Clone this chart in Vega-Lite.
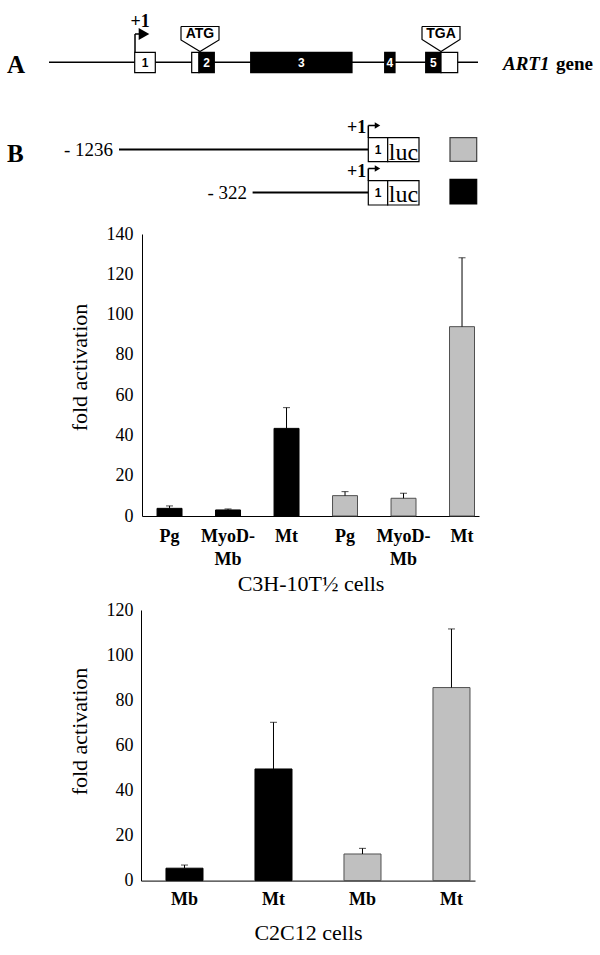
{
  "$schema": "https://vega.github.io/schema/vega-lite/v6.json",
  "background": "white",
  "padding": 0,
  "spacing": 7,
  "config": {"view": {"stroke": null}, "concat": {"spacing": 0}},
  "datasets": {
    "rules": [
      {"part": "gene", "x": 49, "x2": 478, "y": 62.3, "y2": 62.3},
      {"part": "flag", "x": 135, "x2": 135, "y": 52.3, "y2": 34},
      {"part": "flag", "x": 135, "x2": 139, "y": 34, "y2": 34},
      {"part": "construct", "x": 119, "x2": 368, "y": 149.5, "y2": 149.5},
      {"part": "construct", "x": 252.6, "x2": 368, "y": 192.5, "y2": 192.5},
      {"part": "flag", "x": 368.3, "x2": 368.3, "y": 137.7, "y2": 125.5},
      {"part": "flag", "x": 368.3, "x2": 375, "y": 125.5, "y2": 125.5},
      {"part": "flag", "x": 368.3, "x2": 368.3, "y": 180.7, "y2": 168.5},
      {"part": "flag", "x": 368.3, "x2": 375, "y": 168.5, "y2": 168.5}
    ],
    "boxes": [
      {"name": "exon 1", "type": "noncoding", "x": 134.7, "x2": 155.3, "y": 52.3, "y2": 72.7},
      {"name": "exon 2 UTR", "type": "noncoding", "x": 191.7, "x2": 199, "y": 52.3, "y2": 72.7},
      {"name": "exon 2 CDS", "type": "coding", "x": 199, "x2": 214.3, "y": 52.3, "y2": 72.7},
      {"name": "exon 3", "type": "coding", "x": 250.7, "x2": 352, "y": 52.3, "y2": 72.7},
      {"name": "exon 4", "type": "coding", "x": 384.7, "x2": 395, "y": 52.3, "y2": 72.7},
      {"name": "exon 5 CDS", "type": "coding", "x": 425.7, "x2": 441, "y": 52.3, "y2": 72.7},
      {"name": "exon 5 UTR", "type": "noncoding", "x": 441, "x2": 457.7, "y": 52.3, "y2": 72.7},
      {"name": "-1236 exon 1", "type": "noncoding", "x": 368.3, "x2": 387.7, "y": 137.7, "y2": 161.7},
      {"name": "-1236 luc", "type": "noncoding", "x": 387.7, "x2": 419, "y": 137.7, "y2": 161.7},
      {"name": "-322 exon 1", "type": "noncoding", "x": 368.3, "x2": 387.7, "y": 180.7, "y2": 205},
      {"name": "-322 luc", "type": "noncoding", "x": 387.7, "x2": 419, "y": 180.7, "y2": 205},
      {"name": "key -1236", "type": "-1236", "x": 450, "x2": 476.7, "y": 137.7, "y2": 161.3},
      {"name": "key -322", "type": "-322", "x": 450, "x2": 476.7, "y": 179.3, "y2": 204}
    ],
    "arrows": [
      {"part": "gene", "x": 144, "y": 34},
      {"part": "construct", "x": 377.5, "y": 125.5},
      {"part": "construct", "x": 377.5, "y": 168.5}
    ],
    "callouts": [
      {"codon": "ATG", "order": 1, "x": 181, "y": 26.5},
      {"codon": "ATG", "order": 2, "x": 219, "y": 26.5},
      {"codon": "ATG", "order": 3, "x": 219, "y": 40},
      {"codon": "ATG", "order": 4, "x": 200, "y": 51.5},
      {"codon": "ATG", "order": 5, "x": 181, "y": 40},
      {"codon": "ATG", "order": 6, "x": 181, "y": 26.5},
      {"codon": "TGA", "order": 1, "x": 422, "y": 26.5},
      {"codon": "TGA", "order": 2, "x": 460, "y": 26.5},
      {"codon": "TGA", "order": 3, "x": 460, "y": 39.5},
      {"codon": "TGA", "order": 4, "x": 441, "y": 51.5},
      {"codon": "TGA", "order": 5, "x": 422, "y": 39.5},
      {"codon": "TGA", "order": 6, "x": 422, "y": 26.5}
    ],
    "labels": [
      {"role": "letter", "text": "A", "x": 7, "y": 73},
      {"role": "letter", "text": "B", "x": 7, "y": 162},
      {"role": "plus", "text": "+1", "x": 140, "y": 26.5},
      {"role": "plus", "text": "+1", "x": 356.5, "y": 133.3},
      {"role": "plus", "text": "+1", "x": 356.5, "y": 176.7},
      {"role": "exon", "type": "noncoding", "text": "1", "x": 145, "y": 62.5},
      {"role": "exon", "type": "coding", "text": "2", "x": 206.6, "y": 62.5},
      {"role": "exon", "type": "coding", "text": "3", "x": 301.3, "y": 62.5},
      {"role": "exon", "type": "coding", "text": "4", "x": 389.9, "y": 62.5},
      {"role": "exon", "type": "coding", "text": "5", "x": 433.3, "y": 62.5},
      {"role": "exon", "type": "noncoding", "text": "1", "x": 378, "y": 149.7},
      {"role": "exon", "type": "noncoding", "text": "1", "x": 378, "y": 192.8},
      {"role": "codon", "text": "ATG", "x": 200, "y": 34},
      {"role": "codon", "text": "TGA", "x": 441, "y": 34},
      {"role": "genename", "text": "ART1", "x": 503, "y": 70},
      {"role": "geneword", "text": "gene", "x": 593, "y": 70},
      {"role": "coord", "text": "- 1236", "x": 113, "y": 156},
      {"role": "coord", "text": "- 322", "x": 247, "y": 199},
      {"role": "luc", "text": "luc", "x": 403.4, "y": 160},
      {"role": "luc", "text": "luc", "x": 403.4, "y": 202}
    ],
    "c3h": [
      {"key": "Pg_-322", "construct": "-322", "condition": "Pg", "value": 3.8, "err": 5.0},
      {"key": "MyoD-Mb_-322", "construct": "-322", "condition": "MyoD-Mb", "value": 3.0, "err": 3.5},
      {"key": "Mt_-322", "construct": "-322", "condition": "Mt", "value": 43.5, "err": 53.8},
      {"key": "Pg_-1236", "construct": "-1236", "condition": "Pg", "value": 10.1, "err": 12.1},
      {"key": "MyoD-Mb_-1236", "construct": "-1236", "condition": "MyoD-Mb", "value": 8.8, "err": 11.3},
      {"key": "Mt_-1236", "construct": "-1236", "condition": "Mt", "value": 94.0, "err": 128.2}
    ],
    "c2c12": [
      {"key": "Mb_-322", "construct": "-322", "condition": "Mb", "value": 5.5, "err": 6.9},
      {"key": "Mt_-322", "construct": "-322", "condition": "Mt", "value": 49.5, "err": 70.2},
      {"key": "Mb_-1236", "construct": "-1236", "condition": "Mb", "value": 11.8, "err": 14.3},
      {"key": "Mt_-1236", "construct": "-1236", "condition": "Mt", "value": 85.6, "err": 111.6}
    ]
  },
  "vconcat": [
    {
      "width": 600,
      "height": 218,
      "layer": [
        {
          "data": {"name": "rules"},
          "mark": {"type": "rule", "color": "black"},
          "encoding": {
            "x": {"field": "x", "type": "quantitative", "scale": {"domain": [0, 600], "nice": false, "zero": false}, "axis": null},
            "x2": {"field": "x2"},
            "y": {"field": "y", "type": "quantitative", "scale": {"domain": [0, 218], "nice": false, "zero": false, "reverse": true}, "axis": null},
            "y2": {"field": "y2"},
            "strokeWidth": {"condition": {"test": "datum.part === 'construct'", "value": 2}, "value": 1.5}
          }
        },
        {
          "data": {"name": "boxes"},
          "mark": {"type": "rect", "stroke": "black", "strokeWidth": 1.2},
          "encoding": {
            "x": {"field": "x", "type": "quantitative", "scale": {"domain": [0, 600], "nice": false, "zero": false}, "axis": null},
            "x2": {"field": "x2"},
            "y": {"field": "y", "type": "quantitative", "scale": {"domain": [0, 218], "nice": false, "zero": false, "reverse": true}, "axis": null},
            "y2": {"field": "y2"},
            "fill": {"condition": [
              {"test": "datum.type === 'coding'", "value": "black"},
              {"test": "datum.type === '-322'", "value": "black"},
              {"test": "datum.type === '-1236'", "value": "#c0c0c0"}
            ], "value": "white"},
            "stroke": {"condition": {"test": "datum.type === '-1236'", "value": "#404040"}, "value": "black"}
          }
        },
        {
          "data": {"name": "arrows"},
          "mark": {"type": "point", "shape": "triangle-right", "filled": true, "color": "black", "opacity": 1},
          "encoding": {
            "x": {"field": "x", "type": "quantitative", "scale": {"domain": [0, 600], "nice": false, "zero": false}, "axis": null},
            "y": {"field": "y", "type": "quantitative", "scale": {"domain": [0, 218], "nice": false, "zero": false, "reverse": true}, "axis": null},
            "size": {"condition": {"test": "datum.part === 'gene'", "value": 150}, "value": 40}
          }
        },
        {
          "data": {"name": "callouts"},
          "mark": {"type": "line", "color": "black", "strokeWidth": 1.2},
          "encoding": {
            "x": {"field": "x", "type": "quantitative", "scale": {"domain": [0, 600], "nice": false, "zero": false}, "axis": null},
            "y": {"field": "y", "type": "quantitative", "scale": {"domain": [0, 218], "nice": false, "zero": false, "reverse": true}, "axis": null},
            "order": {"field": "order", "type": "quantitative"},
            "detail": {"field": "codon", "type": "nominal"}
          }
        },
        {
          "data": {"name": "labels"},
          "transform": [{"filter": "datum.role === 'letter'"}],
          "mark": {"type": "text", "font": "Liberation Serif", "fontWeight": "bold", "fontSize": 25, "align": "left", "baseline": "alphabetic", "color": "black"},
          "encoding": {
            "x": {"field": "x", "type": "quantitative", "scale": {"domain": [0, 600], "nice": false, "zero": false}, "axis": null},
            "y": {"field": "y", "type": "quantitative", "scale": {"domain": [0, 218], "nice": false, "zero": false, "reverse": true}, "axis": null},
            "text": {"field": "text"}
          }
        },
        {
          "data": {"name": "labels"},
          "transform": [{"filter": "datum.role === 'plus'"}],
          "mark": {"type": "text", "font": "Liberation Serif", "fontWeight": "bold", "fontSize": 18, "align": "center", "baseline": "alphabetic", "color": "black"},
          "encoding": {
            "x": {"field": "x", "type": "quantitative", "scale": {"domain": [0, 600], "nice": false, "zero": false}, "axis": null},
            "y": {"field": "y", "type": "quantitative", "scale": {"domain": [0, 218], "nice": false, "zero": false, "reverse": true}, "axis": null},
            "text": {"field": "text"}
          }
        },
        {
          "data": {"name": "labels"},
          "transform": [{"filter": "datum.role === 'exon'"}],
          "mark": {"type": "text", "font": "Liberation Sans", "fontWeight": "bold", "fontSize": 12, "align": "center", "baseline": "middle"},
          "encoding": {
            "x": {"field": "x", "type": "quantitative", "scale": {"domain": [0, 600], "nice": false, "zero": false}, "axis": null},
            "y": {"field": "y", "type": "quantitative", "scale": {"domain": [0, 218], "nice": false, "zero": false, "reverse": true}, "axis": null},
            "text": {"field": "text"},
            "color": {"condition": {"test": "datum.type === 'coding'", "value": "white"}, "value": "black"}
          }
        },
        {
          "data": {"name": "labels"},
          "transform": [{"filter": "datum.role === 'codon'"}],
          "mark": {"type": "text", "font": "Liberation Sans", "fontWeight": "bold", "fontSize": 14, "align": "center", "baseline": "middle", "color": "black"},
          "encoding": {
            "x": {"field": "x", "type": "quantitative", "scale": {"domain": [0, 600], "nice": false, "zero": false}, "axis": null},
            "y": {"field": "y", "type": "quantitative", "scale": {"domain": [0, 218], "nice": false, "zero": false, "reverse": true}, "axis": null},
            "text": {"field": "text"}
          }
        },
        {
          "data": {"name": "labels"},
          "transform": [{"filter": "datum.role === 'genename'"}],
          "mark": {"type": "text", "font": "Liberation Serif", "fontWeight": "bold", "fontStyle": "italic", "fontSize": 19, "align": "left", "baseline": "alphabetic", "color": "black"},
          "encoding": {
            "x": {"field": "x", "type": "quantitative", "scale": {"domain": [0, 600], "nice": false, "zero": false}, "axis": null},
            "y": {"field": "y", "type": "quantitative", "scale": {"domain": [0, 218], "nice": false, "zero": false, "reverse": true}, "axis": null},
            "text": {"field": "text"}
          }
        },
        {
          "data": {"name": "labels"},
          "transform": [{"filter": "datum.role === 'geneword'"}],
          "mark": {"type": "text", "font": "Liberation Serif", "fontWeight": "bold", "fontSize": 19, "align": "right", "baseline": "alphabetic", "color": "black"},
          "encoding": {
            "x": {"field": "x", "type": "quantitative", "scale": {"domain": [0, 600], "nice": false, "zero": false}, "axis": null},
            "y": {"field": "y", "type": "quantitative", "scale": {"domain": [0, 218], "nice": false, "zero": false, "reverse": true}, "axis": null},
            "text": {"field": "text"}
          }
        },
        {
          "data": {"name": "labels"},
          "transform": [{"filter": "datum.role === 'coord'"}],
          "mark": {"type": "text", "font": "Liberation Serif", "fontSize": 19, "align": "right", "baseline": "alphabetic", "color": "black"},
          "encoding": {
            "x": {"field": "x", "type": "quantitative", "scale": {"domain": [0, 600], "nice": false, "zero": false}, "axis": null},
            "y": {"field": "y", "type": "quantitative", "scale": {"domain": [0, 218], "nice": false, "zero": false, "reverse": true}, "axis": null},
            "text": {"field": "text"}
          }
        },
        {
          "data": {"name": "labels"},
          "transform": [{"filter": "datum.role === 'luc'"}],
          "mark": {"type": "text", "font": "Liberation Serif", "fontSize": 24, "align": "center", "baseline": "alphabetic", "color": "black"},
          "encoding": {
            "x": {"field": "x", "type": "quantitative", "scale": {"domain": [0, 600], "nice": false, "zero": false}, "axis": null},
            "y": {"field": "y", "type": "quantitative", "scale": {"domain": [0, 218], "nice": false, "zero": false, "reverse": true}, "axis": null},
            "text": {"field": "text"}
          }
        }
      ]
    },
    {
      "spacing": 0,
      "hconcat": [
        {"width": 68, "height": 10, "data": {"values": []}, "mark": "point"},
        {
          "width": 337,
          "height": 282,
          "data": {"name": "c3h"},
          "encoding": {
            "x": {
              "field": "key", "type": "nominal", "sort": null,
              "title": "C3H-10T½ cells",
              "scale": {"paddingInner": 0.573, "paddingOuter": 0.167, "align": 0.77},
              "axis": {
                "domainColor": "black", "domainWidth": 1, "ticks": false, "tickSize": 0, "labelAngle": 0,
                "labelOverlap": false, "labelLimit": 0,
                "labelFont": "Liberation Serif", "labelFontWeight": "bold", "labelFontSize": 18, "labelColor": "black",
                "labelPadding": 11, "labelLineHeight": 23,
                "labelExpr": "split(replace(split(datum.value, '_')[0], '-', '-|'), '|')",
                "titleFont": "Liberation Serif", "titleFontSize": 22, "titleFontWeight": "normal", "titleColor": "black", "titlePadding": 5
              }
            }
          },
          "layer": [
            {
              "mark": {"type": "bar", "strokeWidth": 1},
              "encoding": {
                "y": {
                  "field": "value", "type": "quantitative", "title": "fold activation",
                  "scale": {"domain": [0, 140], "nice": false},
                  "axis": {
                    "values": [0, 20, 40, 60, 80, 100, 120, 140],
                    "domainColor": "black", "domainWidth": 1, "ticks": false, "tickSize": 0, "grid": false,
                    "labelFont": "Liberation Serif", "labelFontSize": 18, "labelColor": "black", "labelPadding": 9,
                    "titleFont": "Liberation Serif", "titleFontSize": 22, "titleFontWeight": "normal", "titleColor": "black",
                    "titlePadding": 15, "titleY": 133
                  }
                },
                "fill": {"condition": {"test": "datum.construct === '-322'", "value": "black"}, "value": "#c0c0c0"},
                "stroke": {"condition": {"test": "datum.construct === '-322'", "value": "black"}, "value": "#505050"}
              }
            },
            {
              "mark": {"type": "rule", "color": "black", "strokeWidth": 1},
              "encoding": {
                "y": {"field": "value", "type": "quantitative"},
                "y2": {"field": "err"}
              }
            },
            {
              "mark": {"type": "tick", "color": "black", "thickness": 1, "size": 7},
              "encoding": {
                "y": {"field": "err", "type": "quantitative"}
              }
            }
          ]
        }
      ]
    },
    {
      "spacing": 0,
      "hconcat": [
        {"width": 68, "height": 10, "data": {"values": []}, "mark": "point"},
        {
          "width": 334,
          "height": 270.6,
          "data": {"name": "c2c12"},
          "encoding": {
            "x": {
              "field": "key", "type": "nominal", "sort": null,
              "title": "C2C12 cells",
              "scale": {"paddingInner": 0.584, "paddingOuter": 0.1685, "align": 0.833},
              "axis": {
                "domainColor": "black", "domainWidth": 1, "ticks": false, "tickSize": 0, "labelAngle": 0,
                "labelOverlap": false, "labelLimit": 0,
                "labelFont": "Liberation Serif", "labelFontWeight": "bold", "labelFontSize": 18, "labelColor": "black",
                "labelPadding": 10,
                "labelExpr": "split(datum.value, '_')[0]",
                "titleFont": "Liberation Serif", "titleFontSize": 22, "titleFontWeight": "normal", "titleColor": "black", "titlePadding": 14
              }
            }
          },
          "layer": [
            {
              "mark": {"type": "bar", "strokeWidth": 1},
              "encoding": {
                "y": {
                  "field": "value", "type": "quantitative", "title": "fold activation",
                  "scale": {"domain": [0, 120], "nice": false},
                  "axis": {
                    "values": [0, 20, 40, 60, 80, 100, 120],
                    "domainColor": "black", "domainWidth": 1, "ticks": false, "tickSize": 0, "grid": false,
                    "labelFont": "Liberation Serif", "labelFontSize": 18, "labelColor": "black", "labelPadding": 8,
                    "titleFont": "Liberation Serif", "titleFontSize": 22, "titleFontWeight": "normal", "titleColor": "black",
                    "titlePadding": 15, "titleY": 121
                  }
                },
                "fill": {"condition": {"test": "datum.construct === '-322'", "value": "black"}, "value": "#c0c0c0"},
                "stroke": {"condition": {"test": "datum.construct === '-322'", "value": "black"}, "value": "#505050"}
              }
            },
            {
              "mark": {"type": "rule", "color": "black", "strokeWidth": 1},
              "encoding": {
                "y": {"field": "value", "type": "quantitative"},
                "y2": {"field": "err"}
              }
            },
            {
              "mark": {"type": "tick", "color": "black", "thickness": 1, "size": 7},
              "encoding": {
                "y": {"field": "err", "type": "quantitative"}
              }
            }
          ]
        }
      ]
    }
  ]
}
